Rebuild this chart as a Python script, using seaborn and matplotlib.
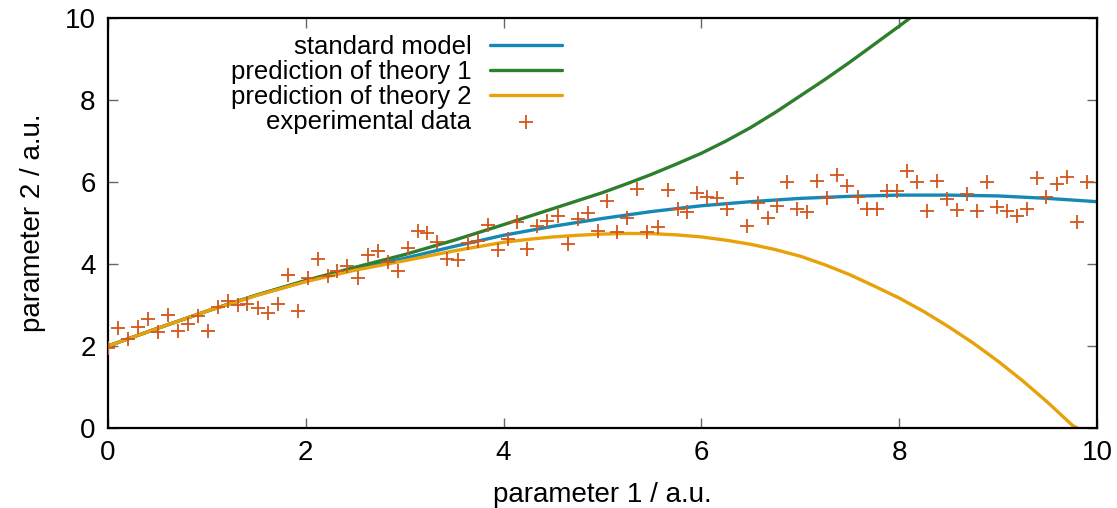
import numpy as np
import pandas as pd
import seaborn as sns
import matplotlib.pyplot as plt

# curves
model_x = [0.0, 0.5, 1.0, 1.5, 2.0, 2.5, 3.0, 3.5, 4.0, 4.5, 5.0,
           5.5, 6.0, 6.5, 7.0, 7.5, 8.0, 8.5, 9.0, 9.5, 10.0]
model_y = [2.00, 2.43, 2.85, 3.24, 3.58, 3.88, 4.14, 4.43, 4.70, 4.92, 5.11,
           5.28, 5.42, 5.52, 5.60, 5.65, 5.68, 5.68, 5.66, 5.60, 5.52]

theory1_x = [0.0, 0.5, 1.0, 1.5, 2.0, 2.5, 3.0, 3.5, 4.0, 4.5, 5.0,
             5.25, 5.5, 5.75, 6.0, 6.25, 6.5, 6.75, 7.0, 7.25, 7.5,
             7.75, 8.0, 8.25]
theory1_y = [2.00, 2.43, 2.85, 3.24, 3.60, 3.92, 4.23, 4.58, 4.96, 5.35, 5.74,
             5.96, 6.19, 6.44, 6.70, 7.00, 7.33, 7.70, 8.10, 8.50, 8.92,
             9.36, 9.80, 10.25]

theory2_x = [0.0, 0.5, 1.0, 1.5, 2.0, 2.5, 3.0, 3.5, 4.0, 4.25, 4.5, 4.75,
             5.0, 5.25, 5.5, 5.75, 6.0, 6.25, 6.5, 6.75, 7.0, 7.25, 7.5,
             7.75, 8.0, 8.25, 8.5, 8.75, 9.0, 9.25, 9.5, 9.75, 9.8]
theory2_y = [2.00, 2.43, 2.85, 3.23, 3.57, 3.85, 4.08, 4.32, 4.53, 4.60, 4.66, 4.70,
             4.73, 4.745, 4.74, 4.71, 4.66, 4.58, 4.48, 4.35, 4.19, 3.98, 3.74,
             3.46, 3.17, 2.84, 2.47, 2.07, 1.63, 1.15, 0.63, 0.07, 0.00]

# experimental data
data_x = [0.00, 0.10, 0.20, 0.30, 0.40, 0.51, 0.61, 0.71, 0.81, 0.91,
          1.01, 1.11, 1.21, 1.31, 1.41, 1.52, 1.62, 1.72, 1.82, 1.92,
          2.02, 2.12, 2.22, 2.32, 2.42, 2.53, 2.63, 2.73, 2.83, 2.93,
          3.03, 3.13, 3.23, 3.33, 3.43, 3.54, 3.64, 3.74, 3.84, 3.94,
          4.04, 4.14, 4.24, 4.34, 4.44, 4.55, 4.65, 4.75, 4.85, 4.95,
          5.05, 5.15, 5.25, 5.35, 5.45, 5.56, 5.66, 5.76, 5.86, 5.96,
          6.06, 6.16, 6.26, 6.36, 6.46, 6.57, 6.67, 6.77, 6.87, 6.97,
          7.07, 7.17, 7.27, 7.37, 7.47, 7.58, 7.68, 7.78, 7.88, 7.98,
          8.08, 8.18, 8.28, 8.38, 8.48, 8.59, 8.69, 8.79, 8.89, 8.99,
          9.09, 9.19, 9.29, 9.39, 9.49, 9.60, 9.70, 9.80, 9.90]
data_y = [1.94, 2.43, 2.17, 2.46, 2.65, 2.33, 2.76, 2.36, 2.53, 2.74,
          2.37, 2.96, 3.09, 3.00, 3.02, 2.92, 2.80, 3.02, 3.73, 2.86,
          3.65, 4.12, 3.71, 3.83, 3.95, 3.65, 4.22, 4.32, 4.06, 3.83,
          4.38, 4.81, 4.75, 4.54, 4.12, 4.10, 4.52, 4.57, 4.95, 4.33,
          4.60, 5.03, 4.37, 4.93, 5.05, 5.18, 4.49, 5.09, 5.25, 4.81,
          5.54, 4.77, 5.11, 5.84, 4.79, 4.90, 5.80, 5.34, 5.26, 5.74,
          5.64, 5.60, 5.33, 6.09, 4.93, 5.48, 5.11, 5.42, 5.99, 5.33,
          5.26, 6.03, 5.60, 6.17, 5.91, 5.64, 5.33, 5.33, 5.79, 5.79,
          6.28, 6.01, 5.30, 6.03, 5.58, 5.32, 5.70, 5.30, 5.99, 5.38,
          5.30, 5.17, 5.34, 6.09, 5.63, 5.94, 6.13, 5.03, 5.99]

sns.set_theme(style="white")
plt.rcParams["font.family"] = ["Liberation Sans", "DejaVu Sans"]
plt.rcParams["text.color"] = "black"
plt.rcParams["axes.labelcolor"] = "black"
plt.rcParams["xtick.color"] = "black"
plt.rcParams["ytick.color"] = "black"

fig, ax = plt.subplots(figsize=(11.17, 5.08), dpi=100)
fig.subplots_adjust(left=0.0967, right=0.982, bottom=0.1575, top=0.9646)

sns.lineplot(x=model_x, y=model_y, color="#1589b6", lw=2.4,
             label="standard model", ax=ax)
sns.lineplot(x=theory1_x, y=theory1_y, color="#2d7e2d", lw=2.4,
             label="prediction of theory 1", ax=ax)
sns.lineplot(x=theory2_x, y=theory2_y, color="#e9a10a", lw=2.4,
             label="prediction of theory 2", ax=ax)
sns.scatterplot(x=data_x, y=data_y, marker="+", s=90, color="#d2561b",
                linewidth=1.3, label="experimental data", ax=ax, zorder=5)

ax.set_xlim(0, 10)
ax.set_ylim(0, 10)
ax.set_xticks(range(0, 11, 2))
ax.set_yticks(range(0, 11, 2))
ax.tick_params(direction="in", length=7, width=1, colors="black",
               top=True, right=True, bottom=True, left=True,
               labelsize=20, pad=9)
ax.tick_params(color="#666666")
for s in ax.spines.values():
    s.set_color("black")
    s.set_linewidth(1.6)

ax.set_xlabel("parameter 1 / a.u.", fontsize=20, labelpad=11)
ax.set_ylabel("parameter 2 / a.u.", fontsize=20, labelpad=13)

leg = ax.legend(loc="upper right", bbox_to_anchor=(0.459, 0.958),
                frameon=False, markerfirst=False, fontsize=18.5,
                handlelength=2.8, handletextpad=0.72, labelspacing=0.03,
                borderpad=0, borderaxespad=0)
for col in leg._legend_handle_box.get_children():
    col.align = "right"

fig.savefig("out.png", dpi=100)
